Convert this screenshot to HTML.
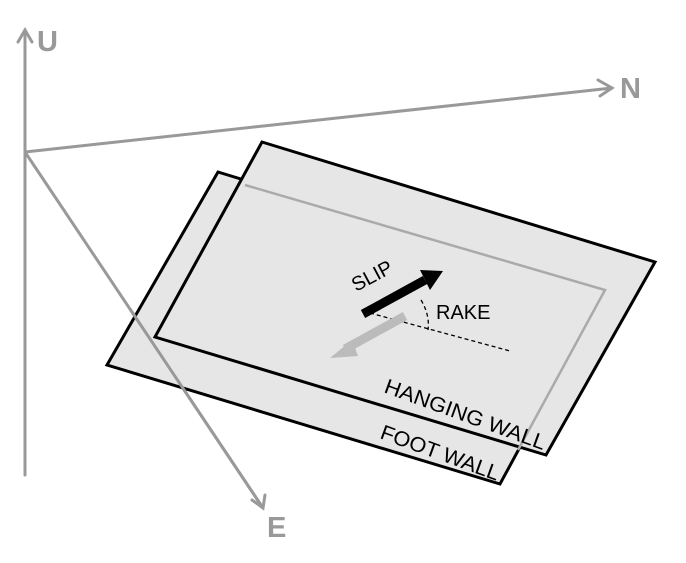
<!DOCTYPE html>
<html><head><style>body{margin:0;background:#fff}svg{display:block}text{font-family:"Liberation Sans",sans-serif}</style></head><body>
<svg width="686" height="563" viewBox="0 0 686 563">
<g stroke="#999" stroke-width="3" fill="none" stroke-linecap="round">
<line x1="25" y1="475" x2="25" y2="30"/>
<polyline points="18,42 25,30 32,42"/>
<line x1="25" y1="152" x2="612" y2="88"/>
<polyline points="598,80 612,88 600,96"/>
<line x1="25" y1="152" x2="263" y2="508"/>
</g>
<polygon points="218,172 605,290 500,484 107,365" fill="#e6e6e6" stroke="#000" stroke-width="3"/>
<polygon points="262,142 655,262 546,455 155,337" fill="#e6e6e6" stroke="#000" stroke-width="3"/>
<polyline points="245,185 605,290 518,450" fill="none" stroke="#aaa" stroke-width="2.5"/>
<g stroke="#999" stroke-width="3" fill="none" stroke-linecap="round">
<line x1="130" y1="309" x2="263" y2="508"/>
<polyline points="252,500 263,508 265,495"/>
</g>
<line x1="370" y1="313" x2="510" y2="351" stroke="#000" stroke-width="1.3" stroke-dasharray="4,3"/>
<path d="M421,300 Q430,315 428,330" fill="none" stroke="#000" stroke-width="1.3" stroke-dasharray="4,3"/>
<line x1="405" y1="316" x2="345" y2="349" stroke="#bbb" stroke-width="9"/>
<polygon points="330,358 352,340 358,356" fill="#bbb"/>
<line x1="363" y1="314" x2="425" y2="280" stroke="#000" stroke-width="9"/>
<polygon points="443,271 420,270 430,290" fill="#000"/>
<text x="37" y="51" font-size="29" font-weight="bold" fill="#999">U</text>
<text x="620" y="98" font-size="29" font-weight="bold" fill="#999">N</text>
<text x="267" y="537" font-size="29" font-weight="bold" fill="#999">E</text>
<text x="0" y="0" font-size="20" transform="translate(356,292) rotate(-28)">SLIP</text>
<text x="436" y="319" font-size="20">RAKE</text>
<text x="0" y="0" font-size="21" transform="translate(383,392) rotate(20)" textLength="170" lengthAdjust="spacingAndGlyphs">HANGING WALL</text>
<text x="0" y="0" font-size="21" transform="translate(379,438) rotate(20)" textLength="125" lengthAdjust="spacingAndGlyphs">FOOT WALL</text>
</svg>
</body></html>
